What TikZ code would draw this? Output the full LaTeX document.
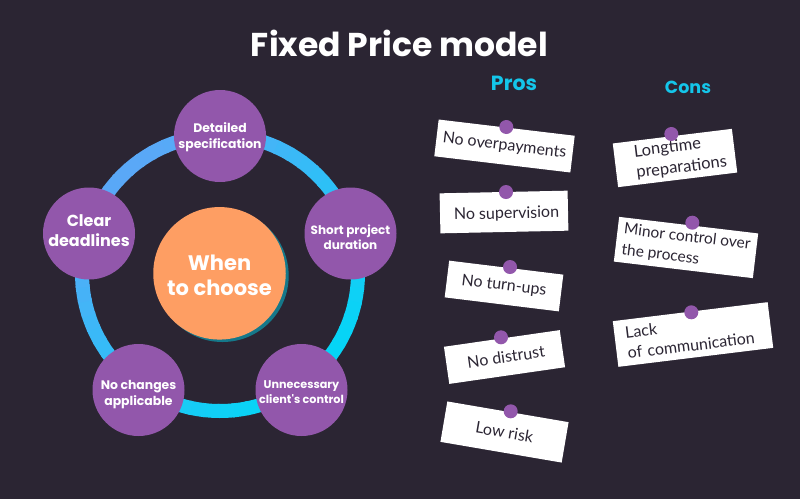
\documentclass[tikz,border=0pt]{standalone}
\usepackage{fontspec}
\setmainfont{Lato}
\newfontfamily\headfont{Poppins}
\definecolor{bgdark}{HTML}{2B2533}
\definecolor{plum}{HTML}{9257AB}
\definecolor{peach}{HTML}{FE9E63}
\definecolor{ringblue}{HTML}{5AA8F7}
\definecolor{ringcyan}{HTML}{04D6F6}
\definecolor{headcyan}{HTML}{14C6EA}
\definecolor{inktext}{HTML}{2B2533}
\definecolor{shadeteal}{HTML}{15788A}
\tikzset{
	bubble/.style={circle,fill=plum,minimum size=92pt,inner sep=0pt,text=white,align=center,font=\headfont\fontsize{12.4}{16}\selectfont\bfseries},
	notebox/.style={fill=white,inner sep=0pt,text=inktext,font=\fontsize{16}{21}\selectfont},
	pinmark/.style={circle,fill=plum,minimum size=14pt,inner sep=0pt},
	headline/.style={text=headcyan,font=\headfont\fontsize{20.5}{22}\selectfont\bfseries}
}
\begin{document}
\begin{tikzpicture}[x=1pt,y=-1pt]
		\fill[bgdark] (0,0) rectangle (800,499);
		\node[text=white,font=\headfont\fontsize{33}{36}\selectfont\bfseries] (title) at (399.5,43) {Fixed Price model};
		\node[headline] (pros) at (514,83) {Pros};
		\node[headline,font=\headfont\fontsize{17.5}{22}\selectfont\bfseries] (cons) at (688,87.5) {Cons};
		% ring
		\coordinate (ringc) at (220,273);
		\foreach \a in {0,6,...,354}{
			\pgfmathsetmacro{\mixval}{50*(1+cos(\a+135))}
			\draw[line width=14pt,color=ringblue!\mixval!ringcyan] ([shift={(\a:138)}]ringc) arc[start angle=\a,end angle=\a+7,radius=138];
		}
		% circles
		\node[bubble] (detail) at (220,136) {\rule{0pt}{13pt}Detailed\\specification};
		\node[bubble,font=\headfont\fontsize{12}{15.5}\selectfont\bfseries] (short) at (350.5,233.5) {\rule{0pt}{17pt}Short project\\duration};
		\node[bubble,font=\headfont\fontsize{11.2}{14.5}\selectfont\bfseries] (client) at (301.5,390) {\rule{0pt}{12pt}Unnecessary\\client's control};
		\node[bubble] (change) at (138.5,390) {\rule{0pt}{18pt}No changes\\applicable};
		\node[bubble,font=\headfont\fontsize{16}{20}\selectfont\bfseries] (clear) at (89,233.5) {Clear\\deadlines\rule[-6pt]{0pt}{0pt}};
		\fill[shadeteal] (222.5,275.8) circle (66.2);
		\node[circle,fill=peach,minimum size=132.5pt,inner sep=0pt,text=white,align=center,font=\headfont\fontsize{21}{25.5}\selectfont\bfseries] (when) at (219.5,273.3) {\rule{0pt}{20pt}When\\to choose};
		% pros
		\node[notebox,minimum width=137pt,minimum height=37pt,rotate=-6.8] (over) at (504.5,146) {No overpayments};
		\node[notebox,minimum width=128pt,minimum height=40pt,rotate=1.2] (super) at (504,212) {\hspace*{5pt}\rule{0pt}{16pt}No supervision};
		\node[notebox,minimum width=115pt,minimum height=37pt,rotate=-7] (turn) at (504,286) {No turn-ups};
		\node[notebox,minimum width=117pt,minimum height=37.5pt,rotate=8.2] (distrust) at (504.5,357) {\hspace*{3pt}No distrust};
		\node[notebox,minimum width=123pt,minimum height=41pt,rotate=-9.7] (risk) at (504.5,432) {Low risk};
		% cons
		\node[notebox,minimum width=120pt,minimum height=44pt,rotate=7,align=left,text width=80pt,font=\fontsize{16.5}{21}\selectfont] (long) at (675,158) {Longtime\\\mbox{preparations}};
		\node[notebox,minimum width=140pt,minimum height=45pt,rotate=-6.8,align=left,font=\fontsize{15.5}{21}\selectfont] (minor) at (686,247.5) {Minor control over\\the process};
		\node[notebox,minimum width=156pt,minimum height=46pt,rotate=7,align=left,text width=134pt] (lack) at (693,334.5) {Lack\\\mbox{of communication}};
		% pins
		\foreach \px/\py/\pname in {506.3/127/pina,506/192/pinb,510/267/pinc,501/337.3/pind,510.7/411.3/pine,671.3/134/pinf,692.3/222.7/ping,691.3/312.3/pinh}
			\node[pinmark] (\pname) at (\px,\py) {};
		\end{tikzpicture}
\end{document}
